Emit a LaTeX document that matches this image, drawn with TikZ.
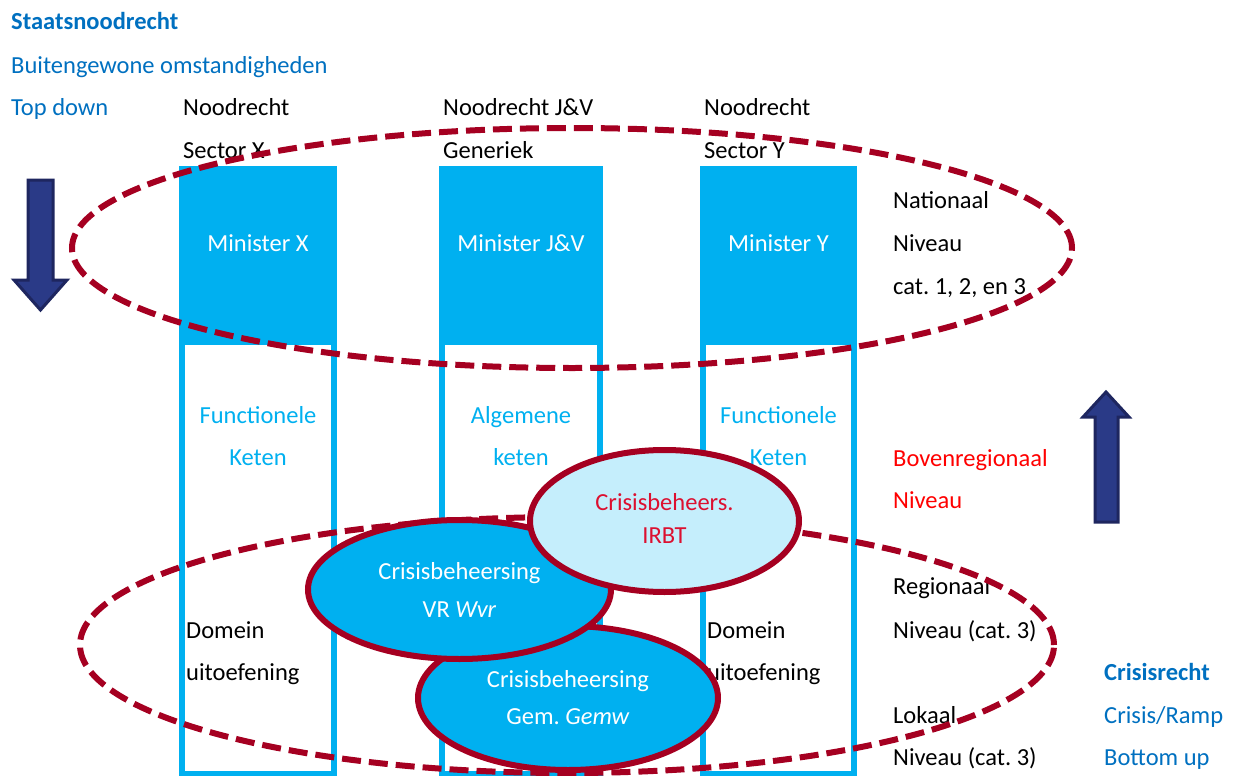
\documentclass[tikz,border=0pt]{standalone}
\usepackage{fontspec}
\setmainfont{Carlito}
\usetikzlibrary{shapes.geometric}
\definecolor{cyanb}{RGB}{0,176,240}
\definecolor{titleblue}{RGB}{0,112,192}
\definecolor{darkred}{RGB}{165,0,33}
\definecolor{lightb}{RGB}{197,238,252}
\definecolor{irbtred}{RGB}{220,16,48}
\definecolor{brightred}{RGB}{255,0,0}
\definecolor{arrowfill}{RGB}{42,58,135}
\definecolor{arrowline}{RGB}{30,38,95}
\begin{document}
\frenchspacing
\begin{tikzpicture}[x=1pt,y=-1pt,
  every node/.style={font=\fontsize{24.5}{29}\selectfont, inner sep=0pt},
  lbl/.style={anchor=base west},
  ctr/.style={anchor=base},
  colfill/.style={fill=cyanb},
  coloutline/.style={draw=cyanb, line width=6pt},
  dashell/.style={draw=darkred, line width=6pt, dash pattern=on 19pt off 8pt, ellipse},
  solidell/.style={draw=darkred, line width=6pt, ellipse, align=center},
  blockarrow/.style={fill=arrowfill, draw=arrowline, line width=3pt, line join=miter}
]
\useasboundingbox (0,0) rectangle (1235,776);

% columns
\draw[coloutline] (182,169) rectangle (334,774);
\fill[colfill] (179,166) rectangle (337,345);
\draw[coloutline] (442,169) rectangle (600,774);
\fill[colfill] (439,166) rectangle (603,345);
\draw[coloutline] (703,169) rectangle (854,774);
\fill[colfill] (700,166) rectangle (857,345);

% left titles
\node[lbl, text=titleblue, font=\fontsize{24.5}{29}\selectfont\bfseries] (t1) at (11,30) {Staatsnoodrecht};
\node[lbl, text=titleblue] (t2) at (11,74) {Buitengewone omstandigheden};
\node[lbl, text=titleblue] (t3) at (11,115) {Top down};

% column headers
\node[lbl] (h1a) at (183,115) {Noodrecht};
\node[lbl] (h1b) at (183,158) {Sector X};
\node[lbl] (h2a) at (443,115) {Noodrecht J\&V};
\node[lbl] (h2b) at (443,158) {Generiek};
\node[lbl] (h3a) at (704,115) {Noodrecht};
\node[lbl] (h3b) at (704,158) {Sector Y};

% ministers
\node[ctr, text=white] (m1) at (258,251) {Minister X};
\node[ctr, text=white] (m2) at (521,251) {Minister J\&V};
\node[ctr, text=white] (m3) at (778.5,251) {Minister Y};

% chains
\node[ctr, text=cyanb] (k1a) at (258,423) {Functionele};
\node[ctr, text=cyanb] (k1b) at (258,465) {Keten};
\node[ctr, text=cyanb] (k2a) at (521,423) {Algemene};
\node[ctr, text=cyanb] (k2b) at (521,465) {keten};
\node[ctr, text=cyanb] (k3a) at (778.5,423) {Functionele};
\node[ctr, text=cyanb] (k3b) at (778.5,465) {Keten};

% domein
\node[lbl] (d1a) at (186,638) {Domein};
\node[lbl] (d1b) at (186,680) {uitoefening};
\node[lbl] (d3a) at (707,638) {Domein};
\node[lbl] (d3b) at (707,680) {uitoefening};

% right levels
\node[lbl] (n1) at (893,208) {Nationaal};
\node[lbl] (n2) at (893,251) {Niveau};
\node[lbl] (n3) at (893,294) {cat. 1, 2, en 3};
\node[lbl, text=brightred] (b1) at (893,466) {Bovenregionaal};
\node[lbl, text=brightred] (b2) at (893,508) {Niveau};
\node[lbl] (r1) at (893,594) {Regionaal};
\node[lbl] (r2) at (893,638) {Niveau (cat. 3)};
\node[lbl] (l1) at (893,723) {Lokaal};
\node[lbl] (l2) at (893,765) {Niveau (cat. 3)};

% crisisrecht
\node[lbl, text=titleblue, font=\fontsize{24.5}{29}\selectfont\bfseries] (c1) at (1104,680) {Crisisrecht};
\node[lbl, text=titleblue] (c2) at (1104,723) {Crisis/Ramp};
\node[lbl, text=titleblue] (c3) at (1104,765) {Bottom up};

% block arrows
\draw[blockarrow] (28,180) -- (53,180) -- (53,280) -- (67,280) -- (40.5,310) -- (14,280) -- (28,280) -- cycle;
\draw[blockarrow] (1095,522) -- (1118,522) -- (1118,417) -- (1129,417) -- (1106,392) -- (1083,417) -- (1095,417) -- cycle;

% dashed ellipses
\node[dashell, minimum width=1000pt, minimum height=240pt] (natell) at (572,248) {};
\node[dashell, minimum width=974pt, minimum height=256pt] (regell) at (567,645) {};

% solid ellipses
\node[solidell, fill=cyanb, text=white, minimum width=300pt, minimum height=144pt,
      font=\fontsize{24.5}{37}\selectfont] (gem) at (568,698) {Crisisbeheersing\\Gem. \textit{Gemw}};
\node[solidell, fill=cyanb, text=white, minimum width=303pt, minimum height=139pt,
      font=\fontsize{24.5}{38}\selectfont] (vr) at (459.5,589.5) {Crisisbeheersing\\VR \textit{Wvr}};
\node[solidell, fill=lightb, text=irbtred, minimum width=269pt, minimum height=142pt,
      font=\fontsize{24.5}{33}\selectfont] (irbt) at (664.5,521) {Crisisbeheers.\\IRBT\rule[-5pt]{0pt}{5pt}};
\end{tikzpicture}
\end{document}
